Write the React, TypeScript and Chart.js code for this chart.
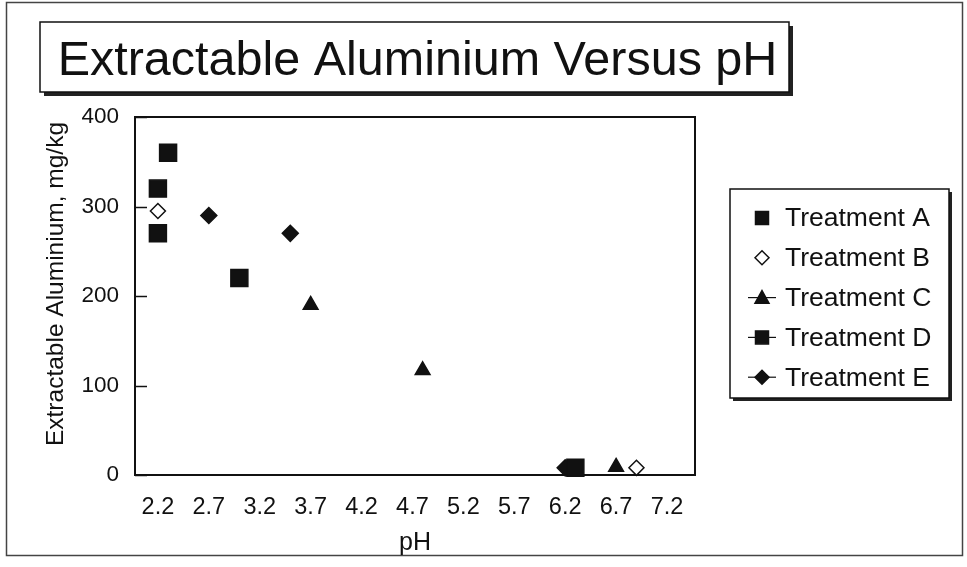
import React, { useEffect, useRef } from "react";
import { Chart, registerables } from "chart.js";

Chart.register(...registerables);

// ---------- data ----------
const chartTitle = "Extractable Aluminium Versus pH";
const xAxisTitle = "pH";
const yAxisTitle = "Extractable Aluminium, mg/kg";

const treatmentNames = ["Treatment A", "Treatment B", "Treatment C", "Treatment D", "Treatment E"];

const treatmentA_pH = [2.2, 2.2, 2.3];
const treatmentA_Al = [320, 270, 360];

const treatmentB_pH = [2.2, 6.9];
const treatmentB_Al = [295, 8];

const treatmentC_pH = [3.7, 4.8, 6.7];
const treatmentC_Al = [190, 117, 9];

const treatmentD_pH = [3.0, 6.3];
const treatmentD_Al = [220, 8];

const treatmentE_pH = [2.7, 3.5, 6.2];
const treatmentE_Al = [290, 270, 8];

const xTickValues = [2.2, 2.7, 3.2, 3.7, 4.2, 4.7, 5.2, 5.7, 6.2, 6.7, 7.2];
const yTickValues = [0, 100, 200, 300, 400];

// ---------- styling ----------
const FONT = "'Liberation Sans', Arial, Helvetica, sans-serif";
const INK = "#111";

type Marker = { style: string; radius: number; fill: string; line: boolean };
const markers: Marker[] = [
  { style: "rect", radius: 12, fill: INK, line: false },
  { style: "rectRot", radius: 7.5, fill: "#fff", line: false },
  { style: "triangle", radius: 8.5, fill: INK, line: true },
  { style: "rect", radius: 12, fill: INK, line: true },
  { style: "rectRot", radius: 8, fill: INK, line: true },
];

function toPoints(xs: number[], ys: number[]) {
  return xs.map((x, i) => ({ x, y: ys[i] }));
}

function drawMarker(ctx: CanvasRenderingContext2D, style: string, x: number, y: number, r: number, fill: string) {
  ctx.save();
  ctx.beginPath();
  if (style === "rect") {
    ctx.rect(x - r, y - r, 2 * r, 2 * r);
  } else if (style === "rectRot") {
    ctx.moveTo(x - r, y);
    ctx.lineTo(x, y - r);
    ctx.lineTo(x + r, y);
    ctx.lineTo(x, y + r);
    ctx.closePath();
  } else if (style === "triangle") {
    ctx.moveTo(x, y - r);
    ctx.lineTo(x + r, y + r * 0.8);
    ctx.lineTo(x - r, y + r * 0.8);
    ctx.closePath();
  }
  ctx.fillStyle = fill;
  ctx.fill();
  ctx.lineWidth = 1.5;
  ctx.strokeStyle = INK;
  ctx.stroke();
  ctx.restore();
}

const decorPlugin = {
  id: "decor",
  beforeDraw(chart: any) {
    const ctx: CanvasRenderingContext2D = chart.ctx;
    ctx.save();
    ctx.fillStyle = "#fff";
    ctx.fillRect(0, 0, chart.width, chart.height);
    // outer frame
    ctx.strokeStyle = "#444";
    ctx.lineWidth = 1.5;
    ctx.strokeRect(6.5, 2.5, 956, 553);
    ctx.restore();
  },
  beforeDatasetsDraw(chart: any) {
    const ctx: CanvasRenderingContext2D = chart.ctx;
    const { left, top, right, bottom } = chart.chartArea;
    const yScale = chart.scales.y;
    ctx.save();
    ctx.strokeStyle = INK;
    ctx.lineWidth = 2;
    ctx.strokeRect(left, top, right - left, bottom - top);
    // inside tick marks on y axis
    ctx.lineWidth = 1.5;
    yTickValues.forEach((v) => {
      const py = Math.round(yScale.getPixelForValue(v)) + 0.5;
      ctx.beginPath();
      ctx.moveTo(left, py);
      ctx.lineTo(left + 12, py);
      ctx.stroke();
    });
    ctx.restore();
  },
  afterDraw(chart: any) {
    const ctx: CanvasRenderingContext2D = chart.ctx;
    ctx.save();
    // ----- y axis title -----
    ctx.save();
    ctx.translate(56, 284);
    ctx.rotate(-Math.PI / 2);
    ctx.fillStyle = INK;
    ctx.font = `24.5px ${FONT}`;
    ctx.textAlign = "center";
    ctx.textBaseline = "middle";
    ctx.fillText(yAxisTitle, 0, 0);
    ctx.restore();

    // ----- title box -----
    const tb = { x: 40, y: 22, w: 749, h: 70 };
    ctx.fillStyle = "#222";
    ctx.fillRect(tb.x + 4, tb.y + 4, tb.w, tb.h);
    ctx.fillStyle = "#fff";
    ctx.fillRect(tb.x, tb.y, tb.w, tb.h);
    ctx.strokeStyle = INK;
    ctx.lineWidth = 1.5;
    ctx.strokeRect(tb.x, tb.y, tb.w, tb.h);
    ctx.fillStyle = INK;
    ctx.font = `48.5px ${FONT}`;
    ctx.textAlign = "center";
    ctx.textBaseline = "alphabetic";
    ctx.fillText(chartTitle, tb.x + tb.w / 2 + 3, 75);

    // ----- legend box -----
    const lb = { x: 730, y: 189, w: 219, h: 209 };
    ctx.fillStyle = "#222";
    ctx.fillRect(lb.x + 3, lb.y + 3, lb.w, lb.h);
    ctx.fillStyle = "#fff";
    ctx.fillRect(lb.x, lb.y, lb.w, lb.h);
    ctx.strokeStyle = INK;
    ctx.lineWidth = 1.5;
    ctx.strokeRect(lb.x, lb.y, lb.w, lb.h);

    ctx.font = `26.5px ${FONT}`;
    ctx.textAlign = "left";
    ctx.textBaseline = "middle";
    chart.data.datasets.forEach((ds: any, i: number) => {
      const m = markers[i];
      const cy = 218 + i * 39.8;
      const cx = 762;
      if (m.line) {
        ctx.strokeStyle = INK;
        ctx.lineWidth = 1.2;
        ctx.beginPath();
        ctx.moveTo(748, cy);
        ctx.lineTo(776, cy);
        ctx.stroke();
      }
      const r = m.style === "rect" ? 6.5 : 7;
      drawMarker(ctx, m.style, cx, cy, r, m.fill);
      ctx.fillStyle = INK;
      ctx.fillText(ds.label, 785, cy + 1);
    });
    ctx.restore();
  },
};

export default function App() {
  const canvasRef = useRef<HTMLCanvasElement | null>(null);

  useEffect(() => {
    const canvas = canvasRef.current;
    if (!canvas) return;
    const series = [
      toPoints(treatmentA_pH, treatmentA_Al),
      toPoints(treatmentB_pH, treatmentB_Al),
      toPoints(treatmentC_pH, treatmentC_Al),
      toPoints(treatmentD_pH, treatmentD_Al),
      toPoints(treatmentE_pH, treatmentE_Al),
    ];
    const chart = new Chart(canvas, {
      type: "scatter",
      data: {
        datasets: series.map((data, i) => ({
          label: treatmentNames[i],
          data,
          showLine: false,
          pointStyle: markers[i].style as any,
          pointRadius: markers[i].radius,
          pointHoverRadius: markers[i].radius,
          pointBackgroundColor: markers[i].fill,
          pointBorderColor: INK,
          pointBorderWidth: 1.5,
          clip: false as any,
        })),
      },
      options: {
        animation: false,
        responsive: false,
        devicePixelRatio: 1,
        layout: { padding: { left: 0, top: 117, right: 272, bottom: 12 } },
        plugins: {
          legend: { display: false },
          title: { display: false },
          tooltip: { enabled: false },
        },
        scales: {
          x: {
            type: "linear",
            min: 1.975,
            max: 7.475,
            grid: { display: false, drawTicks: false },
            border: { display: false },
            afterBuildTicks: (scale: any) => {
              scale.ticks = xTickValues.map((v) => ({ value: v }));
            },
            afterFit: (scale: any) => {
              scale.height = 80;
            },
            ticks: {
              autoSkip: false,
              maxRotation: 0,
              padding: 18,
              color: INK,
              font: { family: FONT, size: 23.5 },
              callback: (v: any) => Number(v).toFixed(1),
            },
            title: {
              display: true,
              text: xAxisTitle,
              color: INK,
              font: { family: FONT, size: 25 },
              padding: { top: 0, bottom: -3 },
            },
          },
          y: {
            type: "linear",
            min: 0,
            max: 400,
            grid: { display: false, drawTicks: false },
            border: { display: false },
            afterBuildTicks: (scale: any) => {
              scale.ticks = yTickValues.map((v) => ({ value: v }));
            },
            afterFit: (scale: any) => {
              scale.width = 135;
            },
            ticks: {
              padding: 16,
              color: INK,
              font: { family: FONT, size: 22.5 },
            },
            title: { display: false },
          },
        },
      },
      plugins: [decorPlugin],
    });
    return () => chart.destroy();
  }, []);

  return (
    <div style={{ position: "absolute", left: 0, top: 0, width: 967, height: 567 }}>
      <canvas ref={canvasRef} width={967} height={567} />
    </div>
  );
}
